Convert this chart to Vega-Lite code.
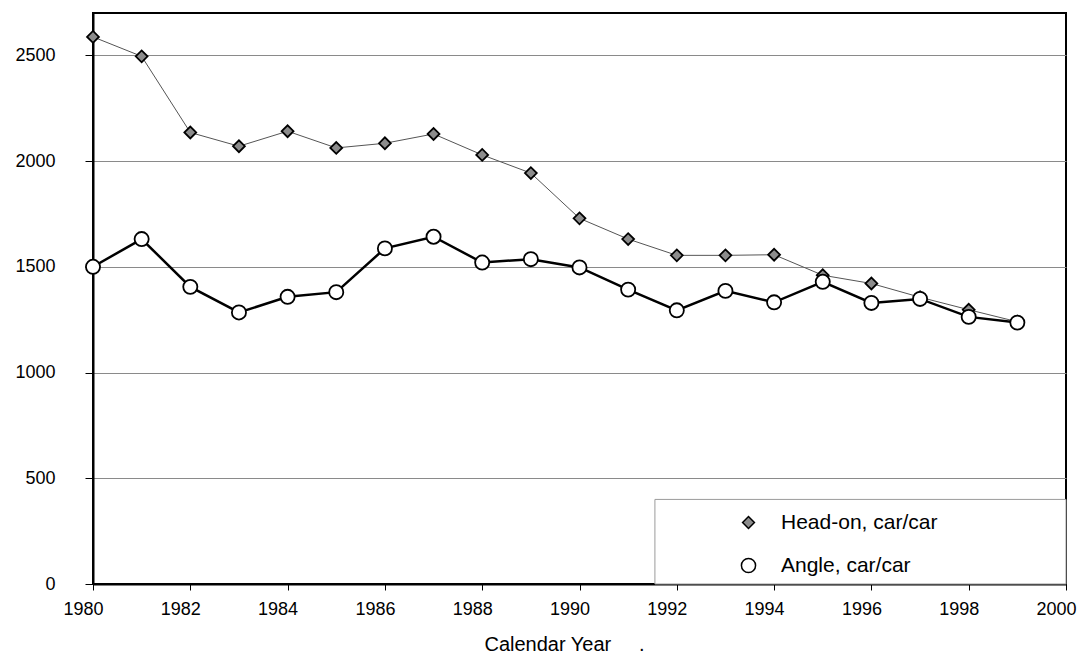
{
  "$schema": "https://vega.github.io/schema/vega-lite/v6.json",
  "width": 973,
  "height": 571,
  "autosize": {"type": "none"},
  "padding": {"left": 93, "top": 13, "right": 12, "bottom": 72},
  "background": "white",
  "config": {"view": {"stroke": "#000000", "strokeWidth": 2}, "font": "Liberation Sans"},
  "data": {"values": [
    {"year": 1980, "series": "Head-on, car/car", "count": 2587},
    {"year": 1981, "series": "Head-on, car/car", "count": 2495},
    {"year": 1982, "series": "Head-on, car/car", "count": 2135},
    {"year": 1983, "series": "Head-on, car/car", "count": 2070},
    {"year": 1984, "series": "Head-on, car/car", "count": 2141},
    {"year": 1985, "series": "Head-on, car/car", "count": 2062},
    {"year": 1986, "series": "Head-on, car/car", "count": 2084},
    {"year": 1987, "series": "Head-on, car/car", "count": 2128},
    {"year": 1988, "series": "Head-on, car/car", "count": 2029},
    {"year": 1989, "series": "Head-on, car/car", "count": 1943},
    {"year": 1990, "series": "Head-on, car/car", "count": 1729},
    {"year": 1991, "series": "Head-on, car/car", "count": 1631},
    {"year": 1992, "series": "Head-on, car/car", "count": 1554},
    {"year": 1993, "series": "Head-on, car/car", "count": 1554},
    {"year": 1994, "series": "Head-on, car/car", "count": 1557},
    {"year": 1995, "series": "Head-on, car/car", "count": 1460},
    {"year": 1996, "series": "Head-on, car/car", "count": 1421},
    {"year": 1997, "series": "Head-on, car/car", "count": 1356},
    {"year": 1998, "series": "Head-on, car/car", "count": 1297},
    {"year": 1999, "series": "Head-on, car/car", "count": 1240},
    {"year": 1980, "series": "Angle, car/car", "count": 1500},
    {"year": 1981, "series": "Angle, car/car", "count": 1631},
    {"year": 1982, "series": "Angle, car/car", "count": 1405},
    {"year": 1983, "series": "Angle, car/car", "count": 1284},
    {"year": 1984, "series": "Angle, car/car", "count": 1358},
    {"year": 1985, "series": "Angle, car/car", "count": 1380},
    {"year": 1986, "series": "Angle, car/car", "count": 1587},
    {"year": 1987, "series": "Angle, car/car", "count": 1642},
    {"year": 1988, "series": "Angle, car/car", "count": 1520},
    {"year": 1989, "series": "Angle, car/car", "count": 1536},
    {"year": 1990, "series": "Angle, car/car", "count": 1497},
    {"year": 1991, "series": "Angle, car/car", "count": 1392},
    {"year": 1992, "series": "Angle, car/car", "count": 1294},
    {"year": 1993, "series": "Angle, car/car", "count": 1386},
    {"year": 1994, "series": "Angle, car/car", "count": 1332},
    {"year": 1995, "series": "Angle, car/car", "count": 1429},
    {"year": 1996, "series": "Angle, car/car", "count": 1329},
    {"year": 1997, "series": "Angle, car/car", "count": 1348},
    {"year": 1998, "series": "Angle, car/car", "count": 1263},
    {"year": 1999, "series": "Angle, car/car", "count": 1236}
  ]},
  "layer": [
    {
      "data": {"values": [{"year": 1991.55, "yearEnd": 2000, "count": 0, "countEnd": 400}]},
      "mark": {"type": "rect", "fill": "white", "stroke": "#9a9a9a", "strokeWidth": 1},
      "encoding": {
        "x": {"field": "year", "type": "quantitative"},
        "x2": {"field": "yearEnd"},
        "y": {"field": "count", "type": "quantitative"},
        "y2": {"field": "countEnd"}
      }
    },
    {
      "transform": [{"filter": "datum.series === 'Head-on, car/car'"}],
      "mark": {"type": "line", "stroke": "#555555", "strokeWidth": 1},
      "encoding": {
        "x": {
          "field": "year", "type": "quantitative",
          "scale": {"domain": [1980, 2000], "nice": false, "zero": false},
          "axis": {
            "title": "Calendar Year\u00a0\u00a0\u00a0\u00a0\u00a0.",
            "values": [1980, 1982, 1984, 1986, 1988, 1990, 1992, 1994, 1996, 1998, 2000],
            "format": "d", "grid": false,
            "domainColor": "black", "domainWidth": 2,
            "tickColor": "black", "tickSize": 6, "tickWidth": 1,
            "labelFont": "Liberation Sans", "labelFontSize": 18, "labelColor": "black",
            "labelPadding": 10, "labelOffset": -10, "labelFlush": false, "labelOverlap": false,
            "titleFont": "Liberation Sans", "titleFontSize": 20, "titleFontWeight": "normal", "titleColor": "black",
            "titlePadding": 16, "titleX": 471
          }
        },
        "y": {
          "field": "count", "type": "quantitative",
          "scale": {"domain": [0, 2700], "nice": false},
          "axis": {
            "title": null,
            "values": [0, 500, 1000, 1500, 2000, 2500],
            "format": "d",
            "grid": true, "gridColor": "#8a8a8a", "gridWidth": 1,
            "domainColor": "black", "domainWidth": 2,
            "tickColor": "black", "tickSize": 8, "tickWidth": 1,
            "labelFont": "Liberation Sans", "labelFontSize": 18, "labelColor": "black",
            "labelPadding": 30
          }
        }
      }
    },
    {
      "transform": [{"filter": "datum.series === 'Angle, car/car'"}],
      "mark": {"type": "line", "stroke": "#000000", "strokeWidth": 2.5},
      "encoding": {
        "x": {"field": "year", "type": "quantitative"},
        "y": {"field": "count", "type": "quantitative"}
      }
    },
    {
      "mark": {"type": "point", "filled": true, "stroke": "black", "strokeWidth": 1.8, "opacity": 1},
      "encoding": {
        "x": {"field": "year", "type": "quantitative"},
        "y": {"field": "count", "type": "quantitative"},
        "fill": {"field": "series", "type": "nominal", "scale": {"domain": ["Head-on, car/car", "Angle, car/car"], "range": ["#8c8c8c", "#ffffff"]}},
        "size": {"field": "series", "type": "nominal", "scale": {"domain": ["Head-on, car/car", "Angle, car/car"], "range": [140, 200]}},
        "shape": {
          "field": "series", "type": "nominal",
          "scale": {"domain": ["Head-on, car/car", "Angle, car/car"], "range": ["diamond", "circle"]},
          "legend": {
            "orient": "none", "legendX": 645, "legendY": 499, "title": null, "padding": 0,
            "labelFont": "Liberation Sans", "labelFontSize": 21, "labelColor": "black",
            "labelOffset": 22, "rowPadding": 21, "labelLimit": 400
          }
        }
      }
    }
  ]
}
